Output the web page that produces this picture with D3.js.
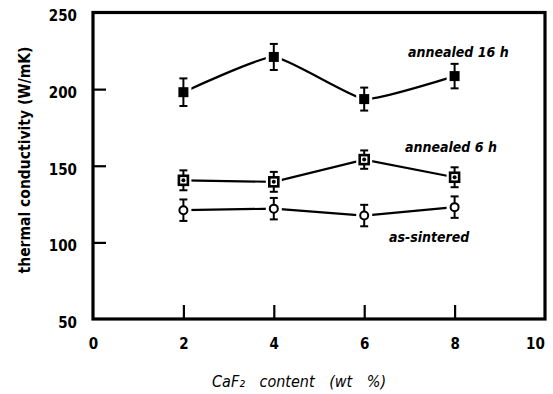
<!DOCTYPE html>
<html><head><meta charset="utf-8">
<script src="https://cdn.jsdelivr.net/npm/d3@7"></script>
<style>
html,body{margin:0;padding:0;background:#fff;}
text{font-family:"DejaVu Sans Condensed","DejaVu Sans",sans-serif;fill:#000;}
</style></head>
<body>
<svg id="c" width="553" height="394"></svg>
<script>
const xValues = [2, 4, 6, 8];
const seriesNames = ["annealed 16 h", "annealed 6 h", "as-sintered"];
const annealed16 = [198, 221, 193.5, 208.5];
const annealed16Err = [9, 8.5, 7.5, 8];
const annealed6 = [140.5, 139.5, 154, 142.5];
const annealed6Err = [6.5, 6.5, 6, 6.5];
const asSintered = [121, 122, 117.5, 123];
const asSinteredErr = [7, 7, 7, 7];
const xTicks = [0, 2, 4, 6, 8, 10];
const yTicks = [50, 100, 150, 200, 250];
const xLabel = "CaF\u2082  content (wt %)";
const yLabel = "thermal conductivity (W/mK)";

const svg = d3.select("#c");
const L = 93, R = 545, T = 12.5, B = 319;
const x = d3.scaleLinear().domain([0, 10]).range([L, R]);
const y = d3.scaleLinear().domain([50, 250]).range([B, T]);

// axes
const ax = svg.append("g").attr("transform", `translate(0,${B})`)
  .call(d3.axisBottom(x).tickValues(xTicks).tickSizeInner(-14).tickSizeOuter(0).tickPadding(19).tickFormat(d3.format("d")));
const ay = svg.append("g").attr("transform", `translate(${L},0)`)
  .call(d3.axisLeft(y).tickValues(yTicks).tickSizeInner(-13).tickSizeOuter(0).tickPadding(16).tickFormat(d3.format("d")));
[ax, ay].forEach(g => {
  g.select(".domain").remove();
  g.selectAll(".tick line").attr("stroke", "#000").attr("stroke-width", 2.2);
  g.selectAll(".tick text").attr("font-size", 15).attr("font-weight", "bold")
    .attr("font-family", "'DejaVu Sans Condensed','DejaVu Sans',sans-serif");
});
ay.selectAll(".tick text").attr("dy", "0.55em");
ax.selectAll(".tick").filter(d => d === 0 || d === 10).select("line").remove();
ax.selectAll(".tick").filter(d => d === 10).select("text").attr("dx", -10);
ay.selectAll(".tick").filter(d => d === 50 || d === 250).select("line").remove();

// frame
svg.append("rect").attr("x", L).attr("y", T).attr("width", R - L).attr("height", B - T)
  .attr("fill", "none").attr("stroke", "#000").attr("stroke-width", 3.2);

// axis titles
svg.append("text").attr("transform", `translate(30,160) rotate(-90)`)
  .attr("text-anchor", "middle").attr("font-size", 15.5).attr("font-weight", "bold")
  .text(yLabel);
svg.append("text").attr("x", 212).attr("y", 387)
  .attr("font-size", 16).attr("font-style", "italic").attr("word-spacing", "10")
  .text(xLabel);

const series = [
  {name: seriesNames[0], v: annealed16, e: annealed16Err, type: "filled", curve: d3.curveCardinal.tension(0.55)},
  {name: seriesNames[1], v: annealed6, e: annealed6Err, type: "dot", curve: d3.curveLinear},
  {name: seriesNames[2], v: asSintered, e: asSinteredErr, type: "open", curve: d3.curveLinear}
];

// mask to leave gaps between lines and markers
const defs = svg.append("defs");
const mask = defs.append("mask").attr("id", "gap").attr("maskUnits", "userSpaceOnUse")
  .attr("x", 0).attr("y", 0).attr("width", 553).attr("height", 394);
mask.append("rect").attr("width", 553).attr("height", 394).attr("fill", "#fff");
series.forEach(s => {
  s.v.forEach((v, i) => {
    mask.append("rect").attr("x", x(xValues[i]) - 8).attr("y", y(v) - 9)
      .attr("width", 16).attr("height", 18).attr("fill", "#000");
  });
});

const lineG = svg.append("g").attr("mask", "url(#gap)");
series.forEach(s => {
  const pts = s.v.map((v, i) => [xValues[i], v]);
  lineG.append("path").datum(pts)
    .attr("d", d3.line().x(d => x(d[0])).y(d => y(d[1])).curve(s.curve))
    .attr("fill", "none").attr("stroke", "#000").attr("stroke-width", 2.2);
});

// error bars and markers
series.forEach(s => {
  const g = svg.append("g");
  s.v.forEach((v, i) => {
    const cx = x(xValues[i]);
    const y1 = y(v + s.e[i]), y2 = y(v - s.e[i]);
    g.append("line").attr("x1", cx).attr("x2", cx).attr("y1", y1).attr("y2", y2)
      .attr("stroke", "#000").attr("stroke-width", 2);
    [y1, y2].forEach(yy => g.append("line").attr("x1", cx - 4).attr("x2", cx + 4)
      .attr("y1", yy).attr("y2", yy).attr("stroke", "#000").attr("stroke-width", 2));
    const cy = y(v);
    if (s.type === "filled") {
      g.append("rect").attr("x", cx - 5).attr("y", cy - 5).attr("width", 10).attr("height", 10).attr("fill", "#000");
    } else if (s.type === "dot") {
      g.append("rect").attr("x", cx - 4.5).attr("y", cy - 4.5).attr("width", 9).attr("height", 9)
        .attr("fill", "#fff").attr("stroke", "#000").attr("stroke-width", 2.6);
      g.append("circle").attr("cx", cx).attr("cy", cy).attr("r", 2).attr("fill", "#000");
    } else {
      g.append("circle").attr("cx", cx).attr("cy", cy).attr("r", 4)
        .attr("fill", "#fff").attr("stroke", "#000").attr("stroke-width", 2);
    }
  });
});

// series labels
const labelPos = [[408, 57], [405, 152], [389, 242]];
series.forEach((s, i) => {
  svg.append("text").attr("x", labelPos[i][0]).attr("y", labelPos[i][1])
    .attr("font-size", 14).attr("font-style", "italic").attr("font-weight", "bold")
    .text(s.name);
});
</script>
</body></html>
